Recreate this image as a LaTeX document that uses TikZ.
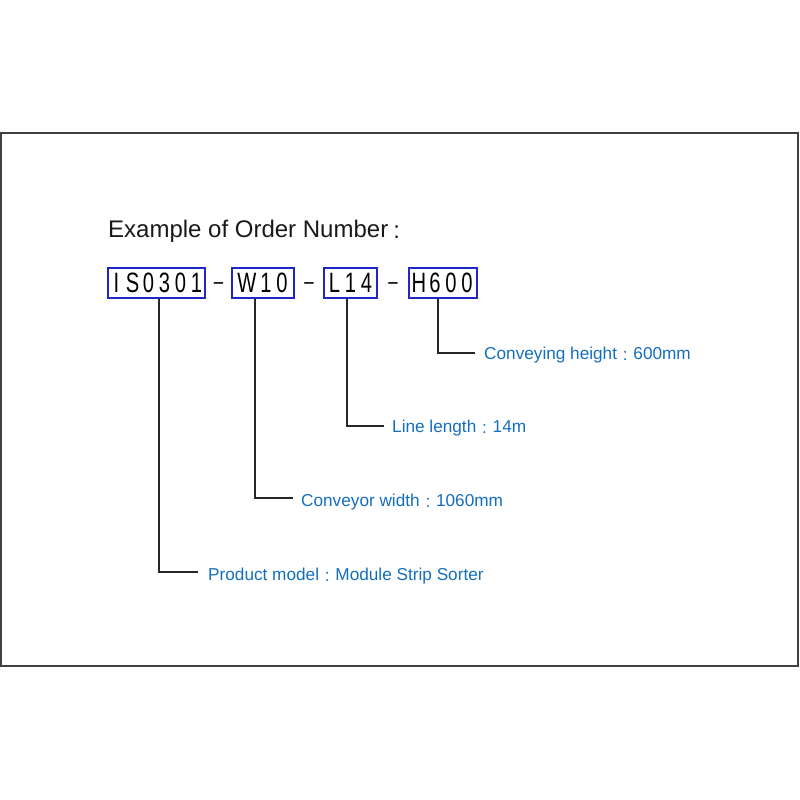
\documentclass[tikz,border=0pt]{standalone}
\usepackage{fontspec}
\setmainfont{Liberation Sans}
\definecolor{lblue}{RGB}{20,110,190}
\definecolor{bblue}{RGB}{30,40,200}
\newcommand\mk[1]{\makebox[16pt]{\scalebox{0.72}[1]{#1}}}
\newcommand\fc{\makebox[0.95em][c]{\raisebox{-0.08em}{:}}}
\begin{document}
\begin{tikzpicture}[x=1pt,y=-1pt,
  codebox/.style={draw=bblue,line width=1.3pt,inner sep=0pt,minimum height=30pt,font=\fontsize{28}{28}\selectfont},
  dashtxt/.style={font=\fontsize{24}{24}\selectfont,inner sep=0pt},
  lbl/.style={anchor=base west,inner sep=0pt,text=lblue,font=\fontsize{17.2}{18}\selectfont},
  conn/.style={line width=1.4pt,black!85}]
\useasboundingbox (0,0) rectangle (800,800);
\draw[line width=1.5pt,black!75] (1,133) rectangle (798,666);
\node[anchor=base west,inner sep=0pt,font=\fontsize{24}{26}\selectfont,text=black!90] (title) at (108,237) {Example of Order Number\makebox[0.7em][c]{\raisebox{-0.08em}{:}}};
\node[codebox,minimum width=97pt] (b1) at (156.5,283) {\mk{I}\mk{S}\mk{0}\mk{3}\mk{0}\mk{1}};
\node[codebox,minimum width=62pt] (b2) at (263,283) {\makebox[22pt]{\scalebox{0.72}[1]{W}}\mk{1}\mk{0}};
\node[codebox,minimum width=53pt] (b3) at (350.5,283) {\mk{L}\mk{1}\mk{4}};
\node[codebox,minimum width=68pt] (b4) at (443,283) {\mk{H}\mk{6}\mk{0}\mk{0}};
\node[dashtxt] (d1) at (218.5,286) {\scalebox{0.7}[1]{–}};
\node[dashtxt] (d2) at (309,286) {\scalebox{0.7}[1]{–}};
\node[dashtxt] (d3) at (393,286) {\scalebox{0.7}[1]{–}};
\coordinate (c1) at (159,572);
\coordinate (c2) at (255,498);
\coordinate (c3) at (347,426);
\coordinate (c4) at (438,353);
\node[lbl] (l1) at (208,580) {Product model\fc Module Strip Sorter};
\node[lbl] (l2) at (301,506) {Conveyor width\fc 1060mm};
\node[lbl] (l3) at (392,432) {Line length\fc 14m};
\node[lbl] (l4) at (484,359) {Conveying height\fc 600mm};
\draw[conn] (b1.south -| c1) -- (c1) -- ++(39,0);
\draw[conn] (b2.south -| c2) -- (c2) -- ++(38,0);
\draw[conn] (b3.south -| c3) -- (c3) -- ++(37,0);
\draw[conn] (b4.south -| c4) -- (c4) -- ++(37,0);
\end{tikzpicture}
\end{document}
